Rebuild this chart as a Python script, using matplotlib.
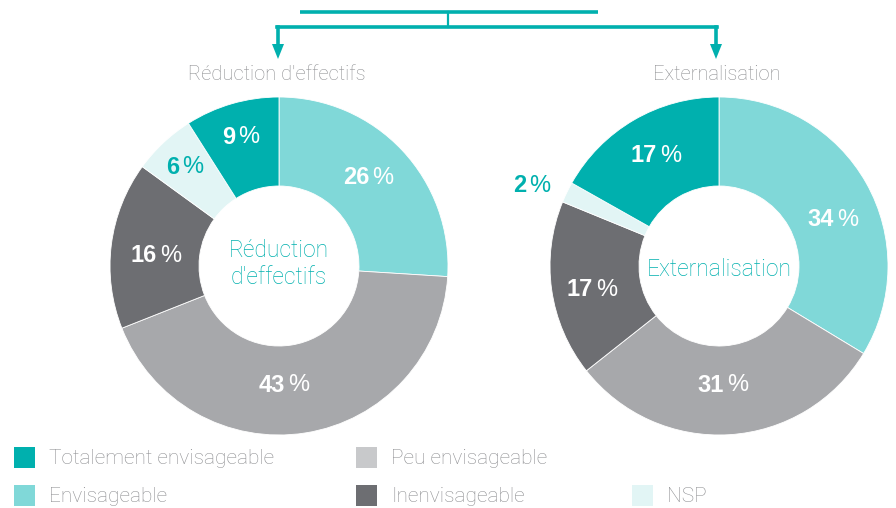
import matplotlib
matplotlib.use("Agg")
import matplotlib.pyplot as plt
from matplotlib.patches import Rectangle, Polygon
from matplotlib import font_manager

W, H = 896, 508

categories = ["Envisageable", "Peu envisageable", "Inenvisageable", "NSP", "Totalement envisageable"]
reduction_values = [26, 43, 16, 6, 9]
externalisation_values = [34, 31, 17, 2, 17]
chart_titles = ["Réduction d'effectifs", "Externalisation"]
center_labels = ["Réduction\nd'effectifs", "Externalisation"]

legend_order = ["Totalement envisageable", "Envisageable", "Peu envisageable", "Inenvisageable", "NSP"]

TEAL = "#00B0AE"
colors = {
    "Envisageable": "#80D8D8",
    "Peu envisageable": "#A7A8AB",
    "Inenvisageable": "#6D6E72",
    "NSP": "#E2F5F5",
    "Totalement envisageable": TEAL,
}
legend_colors = dict(colors)
legend_colors["Peu envisageable"] = "#C8C9CB"

names = {f.name for f in font_manager.fontManager.ttflist}
light_family = "Roboto" if "Roboto" in names else "DejaVu Sans"
bold_family = "Liberation Sans" if "Liberation Sans" in names else "DejaVu Sans"

fig = plt.figure(figsize=(W / 100, H / 100), dpi=100)
ax = fig.add_axes([0, 0, 1, 1])

def py(y):
    return H - y

centers = [(279, 266), (719, 266)]
center_text_y = [264, 270]
R_OUT, R_IN = 169, 80

# label positions (pixels) for each wedge, in categories order
label_pos = [
    [(368, 178), (284, 385), (156, 256), (185, 167), (241, 137)],
    [(833, 220), (723, 385), (592, 290), (532, 186), (656, 156)],
]

ax.set_xlim(0, W)
ax.set_ylim(0, H)
renderer = fig.canvas.get_renderer()

for i, vals in enumerate([reduction_values, externalisation_values]):
    cx, cy = centers[i]
    ax.pie(vals, colors=[colors[c] for c in categories], startangle=90,
           counterclock=False, radius=R_OUT, center=(cx, py(cy)),
           wedgeprops=dict(width=R_OUT - R_IN, edgecolor="white", linewidth=0.6))
    ax.set_xlim(0, W)
    ax.set_ylim(0, H)
    for j, v in enumerate(vals):
        lx, ly = label_pos[i][j]
        col = TEAL if categories[j] == "NSP" else "white"
        t1 = ax.text(lx, py(ly), f"{v}", ha="right", va="center", color=col,
                     fontsize=17, fontweight="bold", family=bold_family)
        t2 = ax.text(lx, py(ly), "%", ha="left", va="center", color=col,
                     fontsize=17, fontweight="normal", family=bold_family)
        w1 = t1.get_window_extent(renderer).width
        w2 = t2.get_window_extent(renderer).width
        gap = 3
        total = w1 + gap + w2
        start = lx - total / 2
        t1.set_x(start + w1)
        t2.set_x(start + w1 + gap)
    ax.text(cx, py(center_text_y[i]), center_labels[i], ha="center", va="center",
            color=TEAL, fontsize=16.5, family=light_family, fontweight="light",
            linespacing=1.25)
    ax.text(cx - 2, py(75), chart_titles[i], ha="center", va="center",
            color="#8E8F92", fontsize=14.5, family=light_family, fontweight="light")

# connector lines and arrows
lw = 2.6
ax.plot([300, 598], [py(12), py(12)], color=TEAL, lw=lw, solid_capstyle="butt")
ax.plot([448, 448], [py(12), py(27)], color=TEAL, lw=1.6)
ax.plot([277, 717], [py(27), py(27)], color=TEAL, lw=lw, solid_capstyle="projecting")
for x in (278, 716):
    ax.plot([x, x], [py(27), py(46)], color=TEAL, lw=lw)
    ax.add_patch(Polygon([(x - 6, py(44)), (x + 6, py(44)), (x, py(59))],
                         closed=True, color=TEAL, lw=0))

# legend
leg_pos = {
    "Totalement envisageable": (14, 447),
    "Envisageable": (14, 485),
    "Peu envisageable": (356, 447),
    "Inenvisageable": (356, 485),
    "NSP": (632, 485),
}
for name in legend_order:
    x, y = leg_pos[name]
    ax.add_patch(Rectangle((x, py(y + 21)), 21, 21, color=legend_colors[name], lw=0))
    ax.text(x + 35, py(y + 12), name, ha="left", va="center", color="#8E8F92",
            fontsize=15, family=light_family, fontweight="light")

ax.set_xlim(0, W)
ax.set_ylim(0, H)
ax.set_aspect("auto")
ax.axis("off")
fig.savefig("out.png", dpi=100)
